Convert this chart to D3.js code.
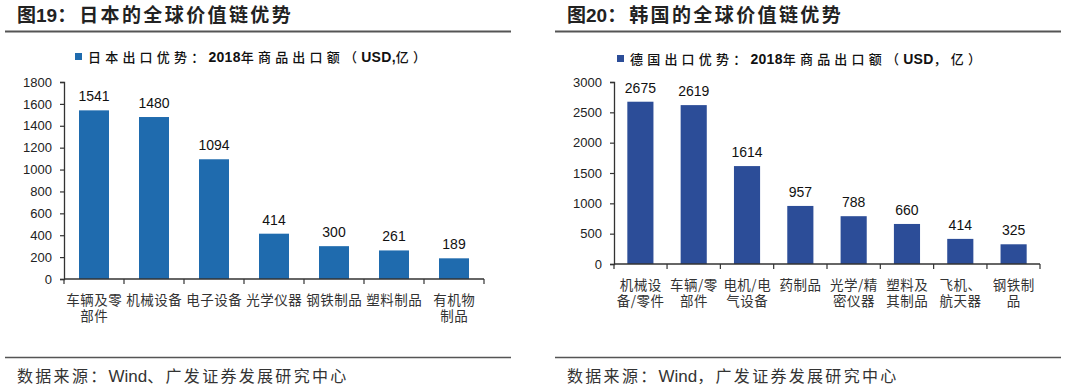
<!DOCTYPE html>
<html><head><meta charset="utf-8">
<script src="https://cdn.jsdelivr.net/npm/d3@7"></script>
<style>
html,body{margin:0;padding:0;background:#fff;}
svg{display:block;}
</style></head>
<body>
<svg id="c" width="1080" height="391"></svg>
<script>
// ---- Data ----
const jpCategories = ["车辆及零\n部件","机械设备","电子设备","光学仪器","钢铁制品","塑料制品","有机物\n制品"];
const jpValues = [1541,1480,1094,414,300,261,189];
const jpTicks = [0,200,400,600,800,1000,1200,1400,1600,1800];
const jpTitleNum = "图19：";
const jpTitleText = "日本的全球价值链优势";
const jpLegend = [["日本出口优势：","c"],["2018","l"],["年商品出口额（","c"],["USD,","l"],["亿）","c"]];
const jpSource = [["数据来源：","c"],["Wind","l"],["、广发证券发展研究中心","c"]];

const deCategories = ["机械设\n备/零件","车辆/零\n部件","电机/电\n气设备","药制品","光学/精\n密仪器","塑料及\n其制品","飞机、\n航天器","钢铁制\n品"];
const deValues = [2675,2619,1614,957,788,660,414,325];
const deTicks = [0,500,1000,1500,2000,2500,3000];
const deTitleNum = "图20：";
const deTitleText = "韩国的全球价值链优势";
const deLegend = [["德国出口优势：","c"],["2018","l"],["年商品出口额（","c"],["USD","l"],["，亿）","c"]];
const deSource = [["数据来源：","c"],["Wind","l"],["，广发证券发展研究中心","c"]];

const CJK = "'Noto Sans CJK SC','Noto Sans',sans-serif";
const LAT = "'Liberation Sans',Arial,sans-serif";
const svg = d3.select("#c");

function mixed(g, parts, opt){
  const t = g.append("text").attr("x",opt.x).attr("y",opt.y).attr("fill",opt.fill||"#222");
  parts.forEach(([s,k])=>{
    t.append("tspan").text(s)
      .attr("font-family", k==="c"?CJK:LAT)
      .attr("font-size", k==="c"?opt.cs:opt.ls)
      .attr("font-weight", k==="c"?opt.cw:opt.lw)
      .attr("letter-spacing", k==="c"?opt.csp:opt.lsp);
  });
  return t;
}

function panel(o){
  const g = svg.append("g");
  // title
  const t = g.append("text").attr("x",o.titleX).attr("y",21.5).attr("fill","#222");
  t.append("tspan").text(o.num.slice(0,1)).attr("font-family",CJK).attr("font-weight",700).attr("font-size",19);
  t.append("tspan").text(o.num.slice(1,3)).attr("font-family",LAT).attr("font-weight",700).attr("font-size",19);
  t.append("tspan").text(o.num.slice(3)).attr("font-family",CJK).attr("font-weight",700).attr("font-size",19).attr("letter-spacing",3);
  t.append("tspan").text(o.title).attr("font-family",CJK).attr("font-weight",700).attr("font-size",19).attr("letter-spacing",2.4);
  // rules
  g.append("line").attr("x1",o.ruleX0).attr("x2",o.ruleX1).attr("y1",31.5).attr("y2",31.5).attr("stroke","#555").attr("stroke-width",1.8);
  g.append("line").attr("x1",o.ruleX0).attr("x2",o.ruleX1).attr("y1",357.5).attr("y2",357.5).attr("stroke","#555").attr("stroke-width",1.6);
  // legend
  g.append("rect").attr("x",o.legX).attr("y",o.legY-4).attr("width",7).attr("height",7).attr("fill",o.color);
  mixed(g,o.legend,{x:o.legX+13,y:o.legY+5,cs:13,ls:14,cw:500,lw:700,csp:4.2,lsp:0.3,fill:"#111"});
  // source
  mixed(g,o.source,{x:o.srcX,y:382,cs:16,ls:17,cw:400,lw:400,csp:2.3,lsp:0,fill:"#333"});

  const x = d3.scaleBand().domain(o.cats).range([o.x0,o.x1]).paddingInner(o.pin).paddingOuter(o.pout);
  const y = d3.scaleLinear().domain([0,o.ymax]).range([o.y0,o.yTop]);

  // bars
  g.selectAll(".bar").data(o.vals).enter().append("rect")
    .attr("x",(d,i)=>x(o.cats[i])).attr("width",x.bandwidth())
    .attr("y",d=>y(d)).attr("height",d=>y(0)-y(d)).attr("fill",o.color);
  // value labels
  g.selectAll(".vl").data(o.vals).enter().append("text")
    .attr("x",(d,i)=>x(o.cats[i])+x.bandwidth()/2).attr("y",d=>y(d)-9)
    .attr("text-anchor","middle").attr("font-family",LAT).attr("font-size",14).attr("fill","#111")
    .text(d=>d);

  // y axis
  const ya = g.append("g").attr("transform",`translate(${o.x0},0)`)
    .call(d3.axisLeft(y).tickValues(o.ticks).tickSize(4).tickPadding(8).tickFormat(d3.format("d")));
  ya.select(".domain").attr("stroke","#333").attr("stroke-width",1.3);
  ya.selectAll(".tick line").attr("stroke","#333").attr("stroke-width",1.2);
  ya.selectAll(".tick text").attr("font-family",LAT).attr("font-size",13).attr("fill","#222");

  // x axis
  const xa = g.append("g").attr("transform",`translate(0,${o.y0})`);
  xa.append("line").attr("x1",o.x0).attr("x2",o.x1).attr("stroke","#333").attr("stroke-width",1.5);
  const step = x.step();
  const bounds = d3.range(o.cats.length+1).map(i=> i===o.cats.length ? o.x1 : x(o.cats[i]) - step*x.paddingInner()/2 - (i===0? (step*x.paddingOuter()-step*x.paddingInner()/2):0));
  xa.selectAll(".bt").data(bounds).enter().append("line")
    .attr("x1",d=>d).attr("x2",d=>d).attr("y1",0).attr("y2",5).attr("stroke","#333").attr("stroke-width",1.2);
  o.cats.forEach(c=>{
    const lines = c.split("\n");
    const tx = xa.append("text").attr("text-anchor","middle").attr("font-family",CJK).attr("font-size",13.5)
      .attr("fill","#333").attr("letter-spacing",o.catSp);
    lines.forEach((l,j)=>{
      tx.append("tspan").attr("x",x(c)+x.bandwidth()/2+o.catSp/2).attr("y",o.catY+j*o.catLH).text(l);
    });
  });
}

panel({num:jpTitleNum,title:jpTitleText,titleX:17,ruleX0:5,ruleX1:511,legX:75,legY:57,legend:jpLegend,
  source:jpSource,srcX:17,color:"#1F6BAE",cats:jpCategories,vals:jpValues,ticks:jpTicks,ymax:1800,
  x0:64,x1:484,y0:279,yTop:82,pin:0.5,pout:0.25,catY:26,catLH:16,catSp:0.5});

panel({num:deTitleNum,title:deTitleText,titleX:567,ruleX0:555,ruleX1:1061,legX:617,legY:59,legend:deLegend,
  source:deSource,srcX:567,color:"#2C4D98",cats:deCategories,vals:deValues,ticks:deTicks,ymax:3000,
  x0:614,x1:1040,y0:264,yTop:82,pin:0.51,pout:0.25,catY:26,catLH:16,catSp:0.5});
</script>
</body></html>
